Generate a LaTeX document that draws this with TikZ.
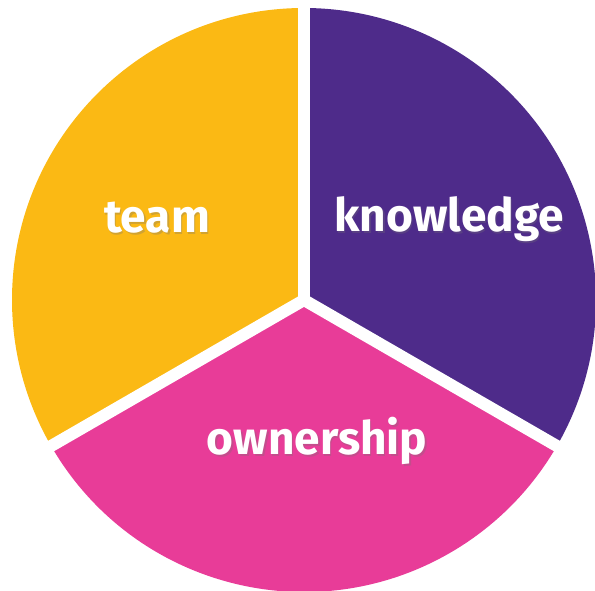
\documentclass[tikz,border=0pt]{standalone}
\usepackage{fontspec}
\setmainfont{Fira Sans}
\usetikzlibrary{calc}
\definecolor{pieyellow}{RGB}{251,185,20}
\definecolor{piepurple}{RGB}{78,43,138}
\definecolor{piepink}{RGB}{232,60,152}
\tikzset{
  label/.style={text=white, font=\fontsize{46}{50}\selectfont\bfseries, inner sep=0pt},
  shadow/.style={text=black!55, opacity=0.3, font=\fontsize{46}{50}\selectfont\bfseries, inner sep=0pt},
  gap/.style={draw=white, line width=12pt}
}
\begin{document}
\begin{tikzpicture}[x=1pt,y=1pt]
\useasboundingbox (0,0) rectangle (595,591);
\coordinate (c) at (304,291);
\fill[pieyellow] (c) -- ++(90:292) arc[start angle=90,end angle=210,radius=292] -- cycle;
\fill[piepink] (c) -- ++(210:292) arc[start angle=210,end angle=330,radius=292] -- cycle;
\fill[piepurple] (c) -- ++(330:292) arc[start angle=330,end angle=450,radius=292] -- cycle;
\coordinate (e1) at ($(c)+(90:310)$);
\coordinate (e2) at ($(c)+(210:310)$);
\coordinate (e3) at ($(c)+(330:310)$);
\draw[gap] (c) -- (e1);
\draw[gap] (c) -- (e2);
\draw[gap] (c) -- (e3);
\node[shadow, anchor=base] at (158.5,356.5) {team};
\node[label, anchor=base] (team) at (157,358) {team};
\node[shadow, anchor=base] at (450.5,357.5) {knowledge};
\node[label, anchor=base] (knowledge) at (449,359) {knowledge};
\node[shadow, anchor=base] at (318.5,134.5) {ownership};
\node[label, anchor=base] (ownership) at (317,136) {ownership};
\end{tikzpicture}
\end{document}
